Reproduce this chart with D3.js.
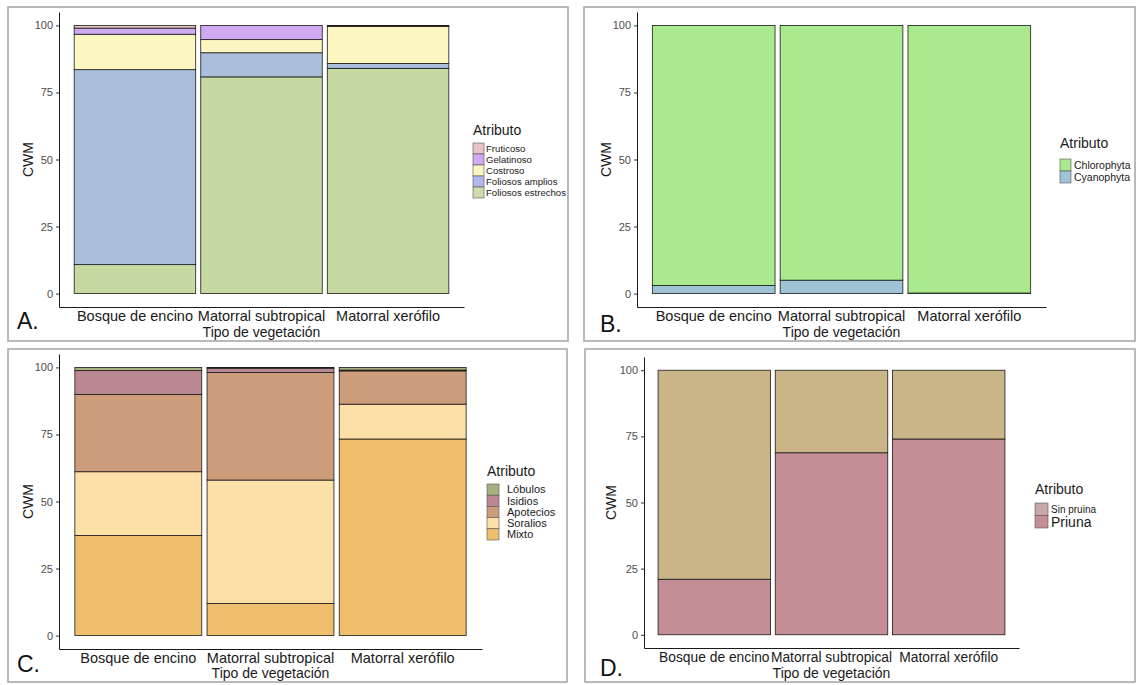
<!DOCTYPE html>
<html lang="es">
<head>
  <meta charset="UTF-8">
  <title>CWM por tipo de vegetación</title>
  <script src="https://d3js.org/d3.v7.min.js"></script>
  <style>
    body { margin: 0; background: #fff; }
    text { font-family: "Liberation Sans", Arial, sans-serif; }
  </style>
</head>
<body>
<div id="chart"></div>
<script>
  // categories + ticks
  const categories = ["Bosque de encino", "Matorral subtropical", "Matorral xerófilo"];
  const yTickValues = [0, 25, 50, 75, 100];

  // A. growth form
  const formaLabels = ["Fruticoso", "Gelatinoso", "Costroso", "Foliosos amplios", "Foliosos estrechos"];
  const fruticoso = [1.0, 0.0, 0.3];
  const gelatinoso = [2.3, 5.3, 0.1];
  const costroso = [13.2, 4.9, 13.8];
  const foliososAmplios = [72.7, 9.0, 1.8];
  const foliososEstrechos = [10.8, 80.8, 84.0];

  // B. photobiont
  const fotobionteLabels = ["Chlorophyta", "Cyanophyta"];
  const chlorophyta = [97.0, 95.0, 99.8];
  const cyanophyta = [3.0, 5.0, 0.2];

  // C. reproduction
  const reproLabels = ["Lóbulos", "Isidios", "Apotecios", "Soralios", "Mixto"];
  const lobulos = [1.2, 0.3, 1.0];
  const isidios = [8.9, 1.6, 0.3];
  const apotecios = [28.8, 40.1, 12.4];
  const soralios = [23.8, 46.0, 13.0];
  const mixto = [37.3, 12.0, 73.3];

  // D. pruina
  const pruinaLabels = ["Sin pruina", "Priuna"];
  const sinPruina = [79.0, 31.2, 26.0];
  const priuna = [21.0, 68.8, 74.0];

  const panels = [
    {
      tag: "A.", labels: formaLabels,
      series: [fruticoso, gelatinoso, costroso, foliososAmplios, foliososEstrechos],
      colors: ["#e9c4c6", "#d0a9f3", "#fcf7c1", "#a9bfdc", "#c6d9a2"],
      keyColors: ["#e9c4c6", "#d0a9f3", "#fcf7c1", "#b3b8ec", "#d0dcb0"],
      frame: [8, 7, 568, 341], x0: 59, x1: 464, yTop: 12, yBot: 307,
      legend: { x: 473, titleY: 135, keyTop: 143, keyH: 11, keyW: 11, textX: 486, fonts: [9.6, 9.6, 9.6, 9.6, 9.6] },
      tagPos: [17, 329], ytitleX: 33, xtitleY: 337, xlabY: 311, xlabFont: 14.5
    },
    {
      tag: "B.", labels: fotobionteLabels,
      series: [chlorophyta, cyanophyta],
      colors: ["#aae98d", "#9ec3d6"],
      keyColors: ["#aae98d", "#9ec3d6"],
      frame: [584, 7, 1135, 341], x0: 637, x1: 1046, yTop: 12, yBot: 307,
      legend: { x: 1060, titleY: 148, keyTop: 159, keyH: 12, keyW: 11, textX: 1074, fonts: [10.5, 10.5] },
      tagPos: [600, 332], ytitleX: 611, xtitleY: 337, xlabY: 311, xlabFont: 14.5
    },
    {
      tag: "C.", labels: reproLabels,
      series: [lobulos, isidios, apotecios, soralios, mixto],
      colors: ["#a8b07e", "#b98890", "#cc9c7b", "#fde0a7", "#efbe6c"],
      keyColors: ["#a8b07e", "#b98890", "#cc9c7b", "#fde0a7", "#efbe6c"],
      frame: [8, 349, 567, 682], x0: 59, x1: 482, yTop: 354, yBot: 649,
      legend: { x: 487, titleY: 476, keyTop: 484, keyH: 11.2, keyW: 12, textX: 507, fonts: [11, 11, 11, 11, 11] },
      tagPos: [17, 672], ytitleX: 33, xtitleY: 678, xlabY: 653, xlabFont: 14.5
    },
    {
      tag: "D.", labels: pruinaLabels,
      series: [sinPruina, priuna],
      colors: ["#cab588", "#c58d96"],
      keyColors: ["#c9a6a8", "#c58d96"],
      frame: [585, 349, 1135, 682], x0: 644, x1: 1019, yTop: 357, yBot: 648,
      legend: { x: 1035, titleY: 494, keyTop: 503, keyH: 12.5, keyW: 13, textX: 1051, fonts: [10, 14] },
      tagPos: [600, 676], ytitleX: 616, xtitleY: 678, xlabY: 652, xlabFont: 13.8
    }
  ];

  const svg = d3.select("#chart").append("svg")
    .attr("width", 1137)
    .attr("height", 685);

  panels.forEach(p => {
    const g = svg.append("g");

    // frame around each panel
    g.append("rect")
      .attr("x", p.frame[0]).attr("y", p.frame[1])
      .attr("width", p.frame[2] - p.frame[0]).attr("height", p.frame[3] - p.frame[1])
      .attr("fill", "none").attr("stroke", "#a8a8a8").attr("stroke-width", 1.6);

    const x = d3.scaleBand()
      .domain(categories)
      .range([p.x0, p.x1])
      .paddingInner(0.04)
      .paddingOuter(0.12);

    const y = d3.scaleLinear()
      .domain([-5, 105])
      .range([p.yBot, p.yTop]);

    const rows = categories.map((c, i) => {
      const r = { cat: c };
      p.labels.forEach((l, k) => { r[l] = p.series[k][i]; });
      return r;
    });

    // first label sits on top, so stack from the last one
    const keys = p.labels.slice().reverse();
    const stacked = d3.stack().keys(keys)(rows);
    const color = d3.scaleOrdinal().domain(p.labels).range(p.colors);

    g.selectAll(".layer")
      .data(stacked)
      .enter().append("g")
      .attr("fill", d => color(d.key))
      .selectAll("rect")
      .data(d => d)
      .enter().append("rect")
      .attr("x", d => x(d.data.cat))
      .attr("y", d => y(d[1]))
      .attr("width", x.bandwidth())
      .attr("height", d => y(d[0]) - y(d[1]))
      .attr("stroke", "#1a1a1a")
      .attr("stroke-width", 0.8);

    // axes
    const yAxis = g.append("g")
      .attr("transform", `translate(${p.x0},0)`)
      .call(d3.axisLeft(y).tickValues(yTickValues).tickSize(3).tickSizeOuter(0).tickPadding(3));
    yAxis.selectAll("text").attr("font-size", 11).attr("fill", "#4d4d4d")
      .attr("font-family", "Liberation Sans, Arial, sans-serif");
    yAxis.selectAll("line").attr("stroke", "#333");
    yAxis.select(".domain").attr("stroke", "#1a1a1a").attr("stroke-width", 1);

    const xAxis = g.append("g")
      .attr("transform", `translate(0,${p.yBot})`)
      .call(d3.axisBottom(x).tickSize(0).tickSizeOuter(0).tickPadding(p.xlabY - p.yBot));
    xAxis.selectAll("text").attr("font-size", p.xlabFont).attr("fill", "#1a1a1a")
      .attr("font-family", "Liberation Sans, Arial, sans-serif");
    xAxis.select(".domain").attr("stroke", "#1a1a1a").attr("stroke-width", 1);

    // axis titles
    g.append("text")
      .attr("x", (p.x0 + p.x1) / 2).attr("y", p.xtitleY)
      .attr("text-anchor", "middle").attr("font-size", 14).attr("fill", "#1a1a1a")
      .text("Tipo de vegetación");

    g.append("text")
      .attr("transform", `translate(${p.ytitleX},${(p.yTop + p.yBot) / 2}) rotate(-90)`)
      .attr("text-anchor", "middle").attr("font-size", 14).attr("fill", "#1a1a1a")
      .text("CWM");

    // panel tag
    g.append("text")
      .attr("x", p.tagPos[0]).attr("y", p.tagPos[1])
      .attr("font-size", 23).attr("fill", "#111")
      .text(p.tag);

    // legend
    const L = p.legend;
    g.append("text")
      .attr("x", L.x).attr("y", L.titleY)
      .attr("font-size", 14).attr("fill", "#1a1a1a")
      .text("Atributo");

    p.labels.forEach((l, k) => {
      g.append("rect")
        .attr("x", L.x).attr("y", L.keyTop + k * L.keyH)
        .attr("width", L.keyW).attr("height", L.keyH)
        .attr("fill", p.keyColors[k])
        .attr("stroke", "#555").attr("stroke-width", 0.6);
      g.append("text")
        .attr("x", L.textX).attr("y", L.keyTop + k * L.keyH + L.keyH / 2)
        .attr("dy", "0.35em")
        .attr("font-size", L.fonts[k]).attr("fill", "#1a1a1a")
        .text(l);
    });
  });
</script>
</body>
</html>
